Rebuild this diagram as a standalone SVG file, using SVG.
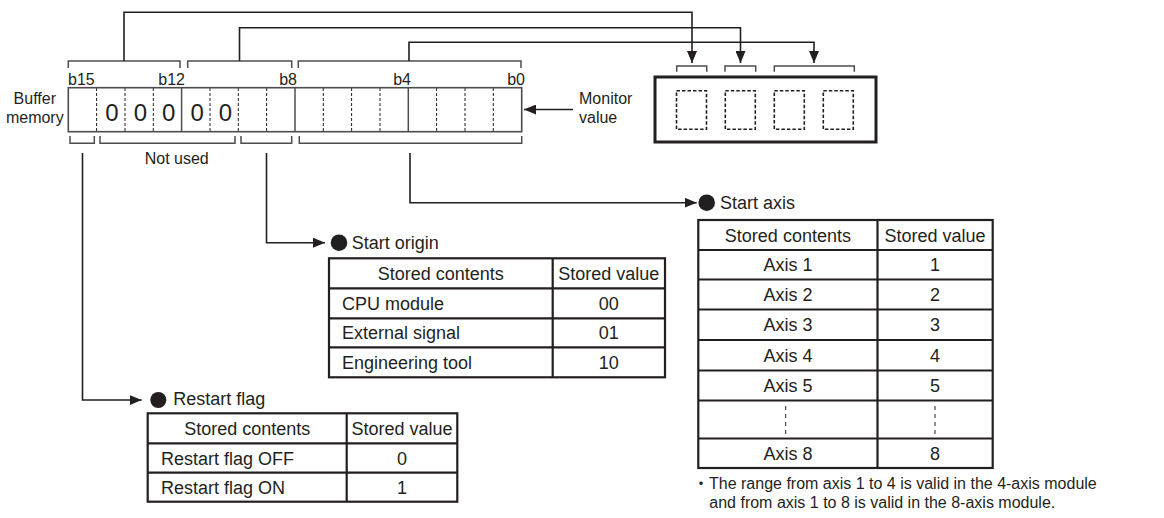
<svg xmlns="http://www.w3.org/2000/svg" width="1164" height="518" viewBox="0 0 1164 518">
<defs>
<marker id="arr" viewBox="0 0 12 10" refX="12" refY="5" markerWidth="12" markerHeight="10" markerUnits="userSpaceOnUse" orient="auto">
<path d="M0,0 L12,5 L0,10 z" fill="#231f20"/>
</marker>
<style>
text{font-family:"Liberation Sans",Arial,"Noto Sans CJK JP",sans-serif;fill:#231f20}
.s{font-size:16px}
.t{font-size:18px}
.z{font-size:24px;text-anchor:middle}
.c{text-anchor:middle}
.e{text-anchor:end}
.br{fill:none;stroke:#4d4d4d;stroke-width:1.5}
.cn{fill:none;stroke:#231f20;stroke-width:1.6}
.tb{fill:none;stroke:#231f20;stroke-width:2.2}
.dv{stroke:#231f20;stroke-width:1;stroke-dasharray:3,2}
.sd{stroke:#4d4d4d;stroke-width:1.5}
.db{fill:none;stroke:#231f20;stroke-width:1.6;stroke-dasharray:3.5,2}
.dot{fill:#231f20}
</style>
</defs>
<rect width="1164" height="518" fill="#ffffff"/>

<g id="buffer-memory">
<text class="s c" x="34.8" y="104">Buffer</text>
<text class="s c" x="34.8" y="123">memory</text>
<text class="s" x="68" y="85">b15</text>
<text class="s e" x="185" y="85">b12</text>
<text class="s e" x="297" y="85">b8</text>
<text class="s e" x="411" y="85">b4</text>
<text class="s e" x="525" y="85">b0</text>
<path class="br" d="M68.3,68 V61 H180 V68 M187.7,68 V61 H291.7 V68 M298.3,68 V61 H521 V68"/>
<g>
<line class="dv" x1="96.6" y1="88" x2="96.6" y2="131"/>
<line class="dv" x1="125" y1="88" x2="125" y2="131"/>
<line class="dv" x1="153.3" y1="88" x2="153.3" y2="131"/>
<line class="sd" x1="181.6" y1="88" x2="181.6" y2="131"/>
<line class="dv" x1="210" y1="88" x2="210" y2="131"/>
<line class="dv" x1="238.3" y1="88" x2="238.3" y2="131"/>
<line class="dv" x1="266.6" y1="88" x2="266.6" y2="131"/>
<line class="sd" x1="295" y1="88" x2="295" y2="131"/>
<line class="dv" x1="323.3" y1="88" x2="323.3" y2="131"/>
<line class="dv" x1="351.6" y1="88" x2="351.6" y2="131"/>
<line class="dv" x1="380" y1="88" x2="380" y2="131"/>
<line class="sd" x1="408.3" y1="88" x2="408.3" y2="131"/>
<line class="dv" x1="436.6" y1="88" x2="436.6" y2="131"/>
<line class="dv" x1="465" y1="88" x2="465" y2="131"/>
<line class="dv" x1="493.3" y1="88" x2="493.3" y2="131"/>
</g>
<rect x="68.3" y="87.7" width="453.4" height="44" fill="none" stroke="#4d4d4d" stroke-width="1.6"/>
<text class="z" x="112" y="120.7">0</text>
<text class="z" x="140.5" y="120.7">0</text>
<text class="z" x="168.8" y="120.7">0</text>
<text class="z" x="197.2" y="120.7">0</text>
<text class="z" x="225.5" y="120.7">0</text>
<path class="br" d="M70,136 V143.3 H94.3 V136 M100,136 V143.3 H235 V136 M241,136 V143.3 H291.7 V136 M299.3,136 V143.3 H521.7 V136"/>
<text class="s c" x="176.7" y="164">Not used</text>
</g>

<g id="monitor-label">
<text class="s" x="579" y="104">Monitor</text>
<text class="s" x="579" y="123">value</text>
</g>

<g id="display">
<path class="br" d="M676.7,71.7 V66 H706.7 V71.7 M725,71.7 V66 H755.7 V71.7 M774.3,71.7 V66 H854.3 V71.7"/>
<rect x="655" y="77" width="221" height="65" fill="none" stroke="#231f20" stroke-width="3"/>
<rect class="db" x="676.5" y="90.7" width="30" height="38.6"/>
<rect class="db" x="725.3" y="90.7" width="30" height="38.6"/>
<rect class="db" x="774.3" y="90.7" width="30" height="38.6"/>
<rect class="db" x="823.3" y="90.7" width="30" height="38.6"/>
</g>

<g id="connectors">
<path class="cn" d="M124,61 V12.3 H692 V63" marker-end="url(#arr)"/>
<path class="cn" d="M239.5,61 V27.7 H740.5 V63" marker-end="url(#arr)"/>
<path class="cn" d="M409,61 V42.3 H814 V63" marker-end="url(#arr)"/>
<path class="cn" d="M573,109.5 H524" marker-end="url(#arr)"/>
<path class="cn" d="M82.5,153 V400 H141.7" marker-end="url(#arr)"/>
<path class="cn" d="M266.5,153 V242.7 H325" marker-end="url(#arr)"/>
<path class="cn" d="M410,153 V202.7 H696.7" marker-end="url(#arr)"/>
</g>

<g id="start-origin">
<circle class="dot" cx="339" cy="242.7" r="8.3"/>
<text class="t" x="351.7" y="249">Start origin</text>
<path class="tb" d="M329,288.3 H665 M329,318.3 H665 M329,347.3 H665 M552.7,258.3 V377.3"/>
<rect class="tb" x="329" y="258.3" width="336" height="119"/>
<text class="t c" x="440.8" y="279.8">Stored contents</text>
<text class="t c" x="608.8" y="279.8">Stored value</text>
<text class="t" x="342" y="309.8">CPU module</text>
<text class="t c" x="608.8" y="309.8">00</text>
<text class="t" x="342" y="339.3">External signal</text>
<text class="t c" x="608.8" y="339.3">01</text>
<text class="t" x="342" y="368.8">Engineering tool</text>
<text class="t c" x="608.8" y="368.8">10</text>
</g>

<g id="restart-flag">
<circle class="dot" cx="158.3" cy="400" r="8"/>
<text class="t" x="173.3" y="405">Restart flag</text>
<path class="tb" d="M147.7,443.3 H457.3 M147.7,472.7 H457.3 M346.7,413.3 V501.7"/>
<rect class="tb" x="147.7" y="413.3" width="309.6" height="88.4"/>
<text class="t c" x="247.2" y="434.8">Stored contents</text>
<text class="t c" x="402" y="434.8">Stored value</text>
<text class="t" x="161" y="464.5">Restart flag OFF</text>
<text class="t c" x="402" y="464.5">0</text>
<text class="t" x="161" y="493.7">Restart flag ON</text>
<text class="t c" x="402" y="493.7">1</text>
</g>

<g id="start-axis">
<circle class="dot" cx="706.7" cy="202.7" r="8.3"/>
<text class="t" x="720" y="209">Start axis</text>
<path class="tb" d="M698.3,250 H992.7 M698.3,279.5 H992.7 M698.3,309.5 H992.7 M698.3,340 H992.7 M698.3,370.5 H992.7 M698.3,400.5 H992.7 M698.3,438.5 H992.7 M877.5,220 V468"/>
<rect class="tb" x="698.3" y="220" width="294.4" height="248"/>
<text class="t c" x="787.9" y="241.5">Stored contents</text>
<text class="t c" x="935.1" y="241.5">Stored value</text>
<text class="t c" x="787.9" y="271">Axis 1</text>
<text class="t c" x="935.1" y="271">1</text>
<text class="t c" x="787.9" y="301">Axis 2</text>
<text class="t c" x="935.1" y="301">2</text>
<text class="t c" x="787.9" y="331">Axis 3</text>
<text class="t c" x="935.1" y="331">3</text>
<text class="t c" x="787.9" y="361.5">Axis 4</text>
<text class="t c" x="935.1" y="361.5">4</text>
<text class="t c" x="787.9" y="392">Axis 5</text>
<text class="t c" x="935.1" y="392">5</text>
<line x1="785.7" y1="406" x2="785.7" y2="434" stroke="#231f20" stroke-width="1" stroke-dasharray="4,4"/>
<line x1="935" y1="406" x2="935" y2="434" stroke="#231f20" stroke-width="1" stroke-dasharray="4,4"/>
<text class="t c" x="787.9" y="460">Axis 8</text>
<text class="t c" x="935.1" y="460">8</text>
</g>

<g id="note">
<text class="s" x="693" y="489.3">・The range from axis 1 to 4 is valid in the 4-axis module</text>
<text class="s" x="709.3" y="508.3">and from axis 1 to 8 is valid in the 8-axis module.</text>
</g>
</svg>
